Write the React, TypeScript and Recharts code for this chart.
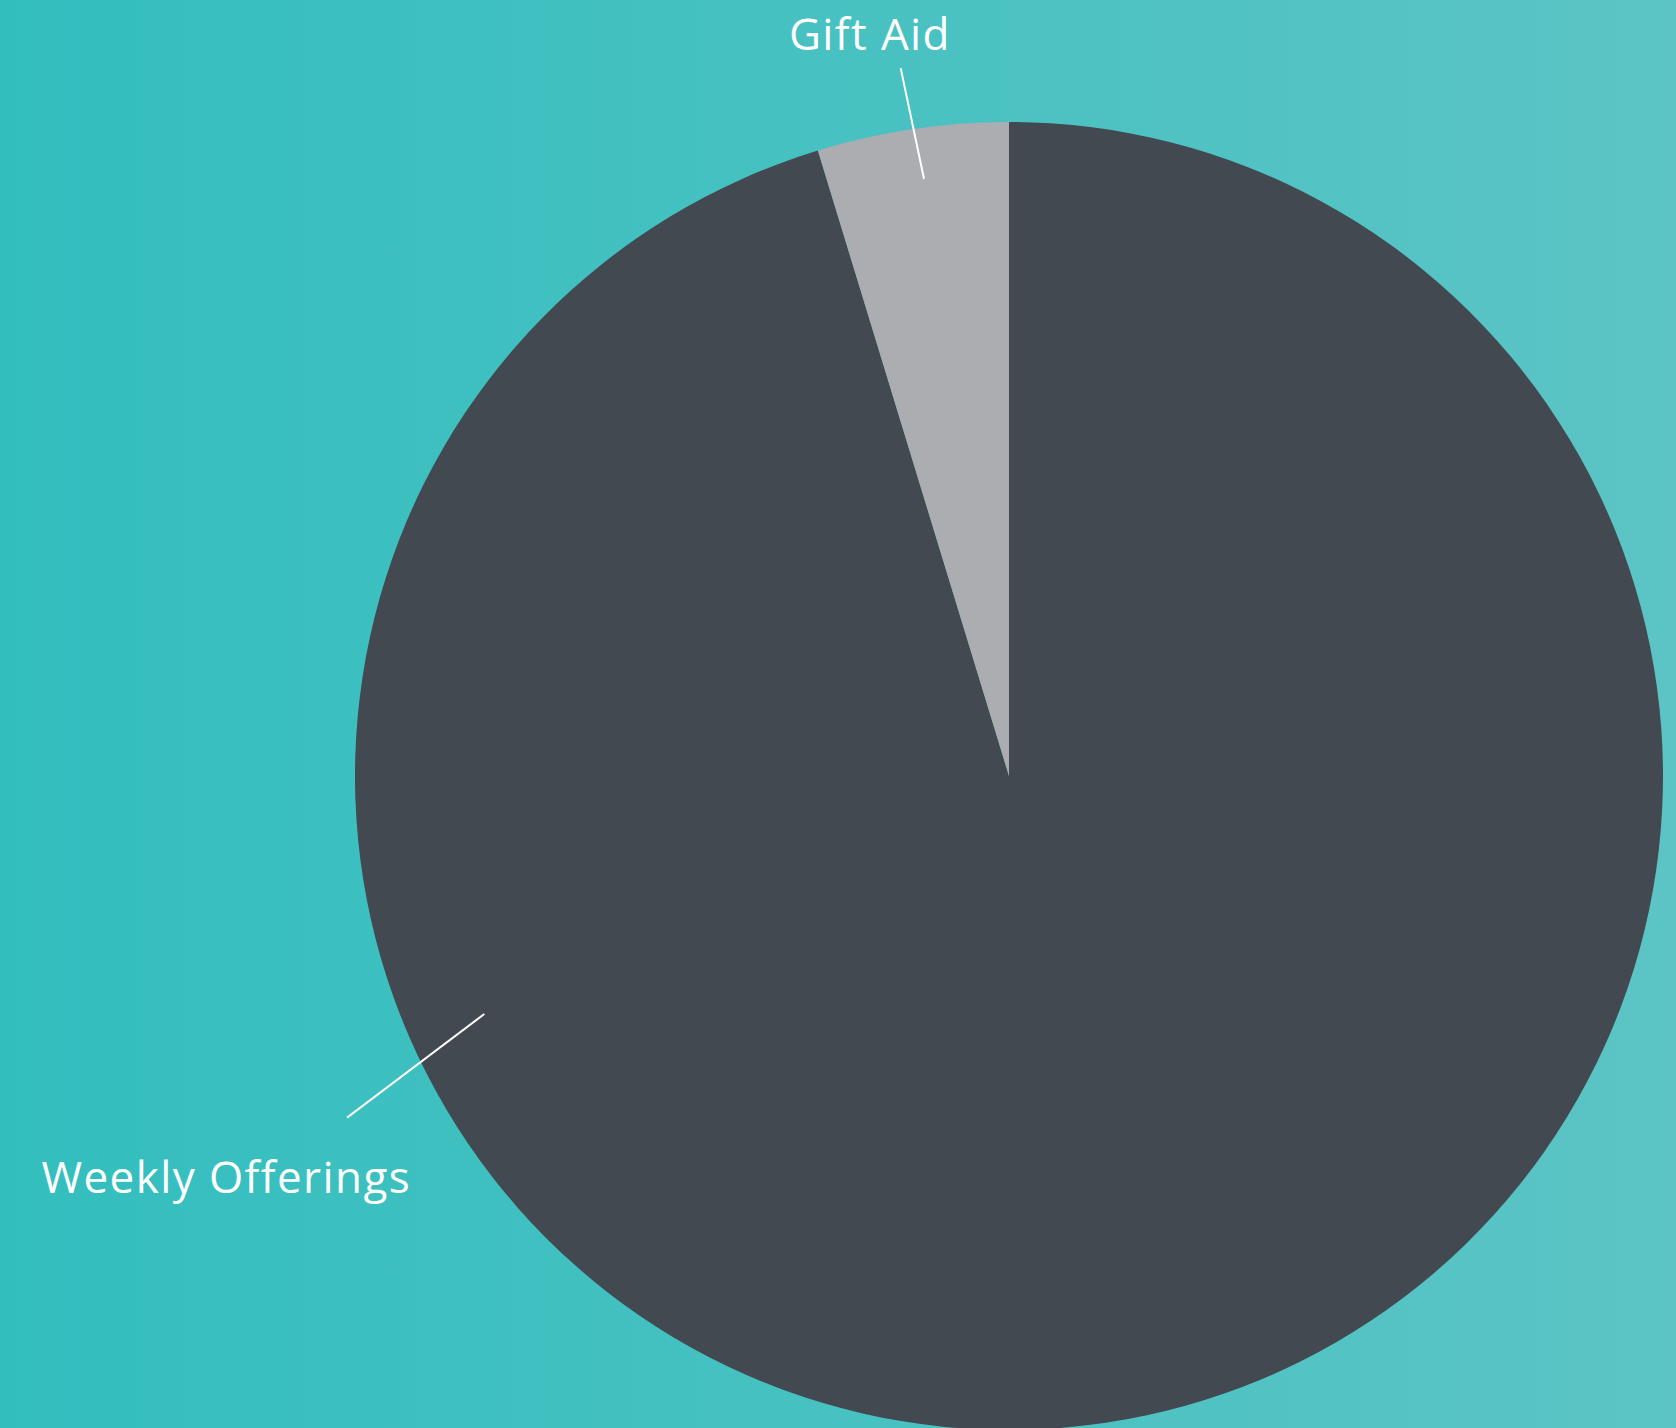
import { PieChart, Pie, Cell } from "recharts";

// share of income
const categories = ["Weekly Offerings", "Gift Aid"];
const shares = [95.28, 4.72];
const sliceColors = ["#424950", "#ACADB1"];

const data = categories.map((name, i) => ({ name, value: shares[i] }));

// where each callout sits, in degrees and multiples of the outer radius
const labelLayout: Record<string, { from: [number, number]; to: [number, number]; text: [number, number] }> = {
  "Weekly Offerings": { from: [204.4, 0.881], to: [207.3, 1.139], text: [207.06, 1.344] },
  "Gift Aid":         { from: [98.1, 0.922],  to: [98.7, 1.095],  text: [100.6, 1.156] },
};

const W = 1676;
const H = 1428;
const RAD = Math.PI / 180;

function polar(cx: number, cy: number, r: number, deg: number) {
  return { x: cx + r * Math.cos(deg * RAD), y: cy - r * Math.sin(deg * RAD) };
}

function Callout(props: any) {
  const { cx, cy, outerRadius, name } = props;
  const l = labelLayout[name];
  if (!l) return null;
  const a = polar(cx, cy, outerRadius * l.from[1], l.from[0]);
  const b = polar(cx, cy, outerRadius * l.to[1], l.to[0]);
  const t = polar(cx, cy, outerRadius * l.text[1], l.text[0]);
  return (
    <g>
      <line x1={a.x} y1={a.y} x2={b.x} y2={b.y} stroke="#FFFFFF" strokeWidth={2} />
      <text x={t.x} y={t.y} textAnchor="middle" dominantBaseline="central"
            fill="#FFFFFF" fontSize={44} letterSpacing={1.4}
            fontFamily="'Open Sans', sans-serif">
        {name}
      </text>
    </g>
  );
}

export default function App() {
  return (
    <div style={{
      position: "absolute", left: 0, top: 0, width: W, height: H, overflow: "hidden",
      background: "linear-gradient(90deg, #33BEBE 0%, #5CC4C5 100%)",
    }}>
      <PieChart width={W} height={H} margin={{ top: 0, right: 0, bottom: 0, left: 0 }}>
        <Pie
          data={data}
          dataKey="value"
          nameKey="name"
          cx={1009}
          cy={776}
          outerRadius={654}
          startAngle={90}
          endAngle={-270}
          stroke="none"
          labelLine={false}
          label={Callout}
          isAnimationActive={false}
        >
          {data.map((d, i) => <Cell key={d.name} fill={sliceColors[i]} />)}
        </Pie>
      </PieChart>
    </div>
  );
}
